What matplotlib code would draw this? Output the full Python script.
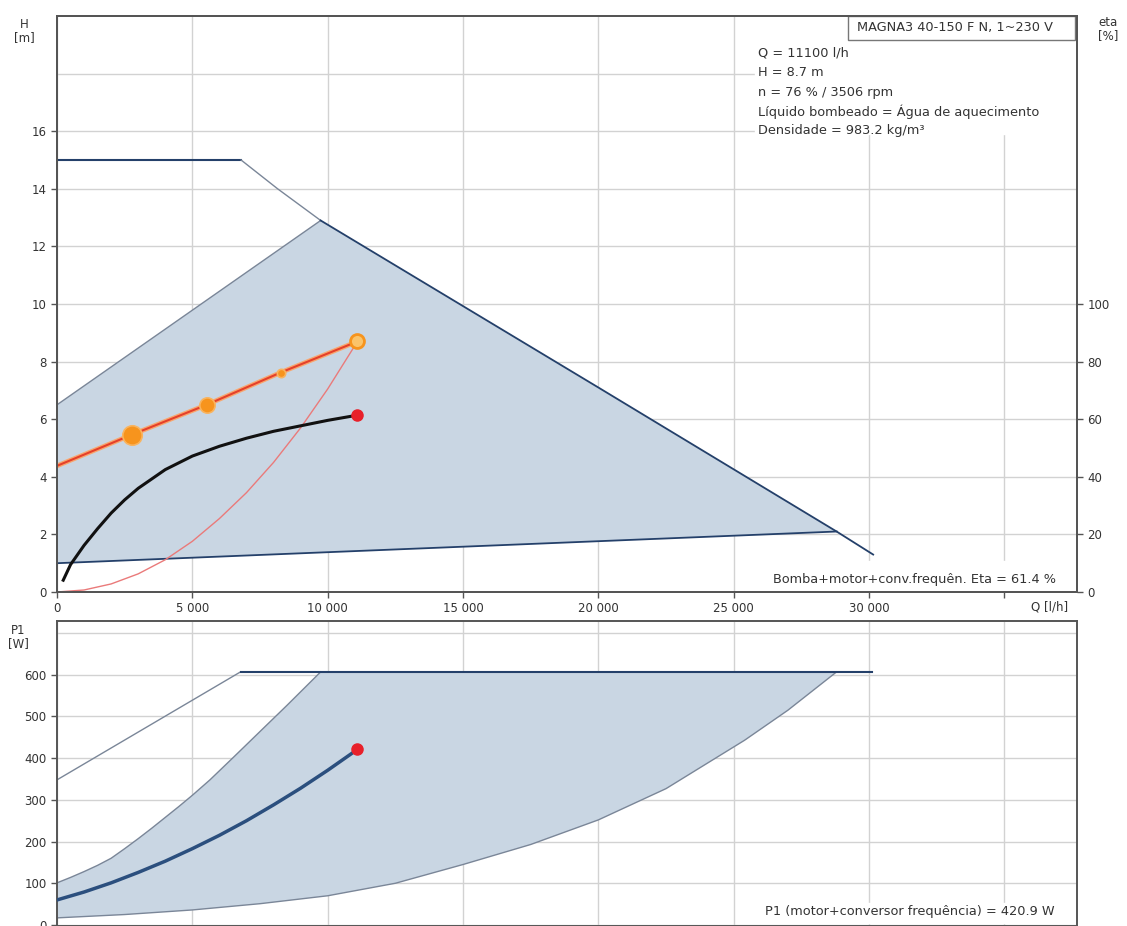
import numpy as np
import matplotlib.pyplot as plt
from matplotlib.patches import Rectangle

plt.rcParams['font.family'] = ['DejaVu Sans']

# ---- top chart: head H [m] vs flow Q [l/h]
q_max = [0, 6800, 8150, 9740, 20000, 28800, 30150]
h_max = [15, 15, 14.0, 12.9, 7.1, 2.1, 1.3]

q_area_top = [0, 9740]          # upper-left edge of shaded area
h_area_top = [6.5, 12.9]
q_area_bot = [0, 28800]         # lower edge of shaded area
h_area_bot = [1.0, 2.1]

q_set = [0, 2760, 5530, 8260, 11100]
h_set = [4.38, 5.46, 6.50, 7.62, 8.70]

q_sys = [0, 1000, 2000, 3000, 4000, 5000, 6000, 7000, 8000, 9000, 10000, 11100]
h_sys = [0, 0.07, 0.28, 0.63, 1.12, 1.76, 2.55, 3.45, 4.5, 5.7, 7.05, 8.7]

q_eta = [230, 500, 1000, 1500, 2000, 2500, 3000, 4000, 5000, 6000, 7000, 8000, 9000, 10000, 11100]
eta = [4.1, 9.5, 16.2, 22.0, 27.4, 32.0, 36.0, 42.5, 47.2, 50.6, 53.4, 55.8, 57.7, 59.6, 61.4]

# ---- bottom chart: P1 [W] vs Q
q_p1_thin = [0, 6780]
p1_thin = [348, 607]
q_p1_flat = [6780, 30100]
p1_flat = [607, 607]

q_p1_left = [0, 500, 1000, 1500, 2000, 2500, 3000, 3500, 4000, 4500, 5000, 5650, 6500, 7500, 8500, 9740]
p1_left = [101, 114, 128, 143, 160, 183, 207, 232, 258, 284, 311, 348, 401, 464, 527, 607]
q_p1_right = [0, 2500, 5000, 7500, 10000, 12500, 15000, 17500, 20000, 22500, 25400, 27000, 28800]
p1_right = [17, 25, 36, 51, 70, 100, 145, 193, 252, 327, 443, 515, 607]

q_p1 = [0, 1000, 2000, 3000, 4000, 5000, 6000, 7000, 8000, 9000, 10000, 11100]
p1 = [60, 79, 101, 126, 153, 183, 215, 250, 288, 328, 371, 421]

x_ticks = [0, 5000, 10000, 15000, 20000, 25000, 30000, 35000]
x_labels = ['0', '5 000', '10 000', '15 000', '20 000', '25 000', '30 000', '']

info_lines = ['Q = 11100 l/h', 'H = 8.7 m', 'n = 76 % / 3506 rpm',
              'Líquido bombeado = Água de aquecimento', 'Densidade = 983.2 kg/m³']

shade = '#c9d6e3'
navy = '#24406a'
thin = '#7a8698'
gridc = '#d2d2d2'
spinec = '#555555'
txtc = '#333333'
fs = 8.5
fs_info = 9.3

W, H = 1127, 926
fig = plt.figure(figsize=(W / 100, H / 100), dpi=100)


def px_axes(x0, y0, x1, y1):
    return fig.add_axes([x0 / W, 1 - y1 / H, (x1 - x0) / W, (y1 - y0) / H])


def style(ax):
    for s in ax.spines.values():
        s.set_color(spinec)
        s.set_linewidth(1.4)
    ax.tick_params(colors=txtc, labelsize=fs, length=4, width=1, color=spinec)
    ax.set_axisbelow(True)


# ================= top chart
ax = px_axes(57, 16, 1077, 592)
style(ax)
ax.set_xlim(0, 37680)
ax.set_ylim(0, 20)
ax.set_xticks(x_ticks)
ax.set_xticklabels(x_labels)
ax.set_yticks(np.arange(0, 17, 2))
ax.grid(True, color=gridc, lw=1)
ax.axhline(18, color=gridc, lw=1, zorder=0.5)

ax.fill(q_area_top + q_max[4:6] + q_area_bot[::-1],
        h_area_top + h_max[4:6] + h_area_bot[::-1], color=shade, lw=0, zorder=1)
ax.plot(q_area_top, h_area_top, color=thin, lw=1, zorder=2)
ax.plot(q_area_bot, h_area_bot, color=navy, lw=1.3, zorder=2)
ax.plot(q_max[:2], h_max[:2], color=navy, lw=1.5, zorder=2)
ax.plot(q_max[1:4], h_max[1:4], color=thin, lw=1, zorder=2)
ax.plot(q_max[3:], h_max[3:], color=navy, lw=1.3, zorder=2)

ax.plot(q_sys, h_sys, color='#ea7a7a', lw=1, zorder=3)
ax.plot(q_set, h_set, color='#f8a66e', lw=3.4, zorder=4, solid_capstyle='round')
ax.plot(q_set, h_set, color='#e5402a', lw=1.5, zorder=5)
for q, h, ms in zip(q_set[1:4], h_set[1:4], [14, 11, 6]):
    ax.plot(q, h, 'o', ms=ms, mfc='#f7941d', mec='#f9b45f', mew=1.2, zorder=6)
ax.plot(q_set[-1], h_set[-1], 'o', ms=10, mfc='#fbc46a', mec='#f7941d', mew=2, zorder=6)

# white panels behind texts
ax.add_patch(Rectangle((0.684, 0.795), 0.314, 0.165, transform=ax.transAxes,
                       color='white', zorder=1.5))
ax.add_patch(Rectangle((0.69, 0.003), 0.308, 0.05, transform=ax.transAxes,
                       color='white', zorder=1.5))
ax.add_patch(Rectangle(((848 - 57) / 1020, (592 - 40) / 576), (1075 - 848) / 1020, 24 / 576,
                       transform=ax.transAxes, fc='white', ec='#777777', lw=1, zorder=6))
ax.text((857 - 57) / 1020, (592 - 28) / 576, 'MAGNA3 40-150 F N, 1~230 V', transform=ax.transAxes,
        fontsize=fs_info, va='center', ha='left', color=txtc, zorder=7)
for i, line in enumerate(info_lines):
    ax.text(0.687, 0.935 - i * 0.0335, line, transform=ax.transAxes, fontsize=fs_info,
            va='center', ha='left', color=txtc, zorder=7)
ax.text(0.702, 0.021, 'Bomba+motor+conv.frequên. Eta = 61.4 %', transform=ax.transAxes,
        fontsize=fs_info, va='center', ha='left', color=txtc, zorder=7)

ax2 = ax.twinx()
ax2.set_ylim(0, 200)
ax2.set_yticks(np.arange(0, 101, 20))
style(ax2)
ax2.plot(q_eta, eta, color='#111111', lw=2.2, zorder=5)
ax2.plot(q_eta[-1], eta[-1], 'o', ms=8, color='#e8202a', zorder=6)

fig.text(1068 / W, 1 - 607 / H, 'Q [l/h]', fontsize=fs, ha='right', va='center', color=txtc)
fig.text(24 / W, 1 - 31 / H, 'H\n[m]', fontsize=fs, ha='center', va='center',
         color=txtc, linespacing=1.1)
fig.text(1108 / W, 1 - 29 / H, 'eta\n[%]', fontsize=fs, ha='center', va='center',
         color=txtc, linespacing=1.1)

# ================= bottom chart
bx = px_axes(57, 621, 1077, 926)
style(bx)
bx.set_xlim(0, 37680)
bx.set_ylim(-2.5, 729)
bx.set_xticks(x_ticks)
bx.tick_params(axis='x', labelbottom=False, length=0)
bx.set_yticks(np.arange(0, 601, 100))
bx.grid(True, color=gridc, lw=1)
bx.axhline(700, color=gridc, lw=1, zorder=0.5)

bx.fill(q_p1_left + q_p1_right[::-1], p1_left + p1_right[::-1], color=shade, lw=0, zorder=1)
bx.plot(q_p1_left, p1_left, color=thin, lw=1, zorder=2)
bx.plot(q_p1_right, p1_right, color=thin, lw=1, zorder=2)
bx.plot(q_p1_thin, p1_thin, color=thin, lw=1, zorder=2)
bx.plot(q_p1_flat, p1_flat, color=navy, lw=1.5, zorder=2)
bx.plot(q_p1, p1, color='#2b4f7e', lw=2.5, zorder=4)
bx.plot(q_p1[-1], p1[-1], 'o', ms=8, color='#e8202a', zorder=5)

bx.add_patch(Rectangle((0.69, 0.01), 0.308, 0.065, transform=bx.transAxes,
                       color='white', zorder=1.5))
bx.text(0.694, 0.046, 'P1 (motor+conversor frequência) = 420.9 W', transform=bx.transAxes,
        fontsize=fs_info, va='center', ha='left', color=txtc, zorder=7)
fig.text(18 / W, 1 - 637 / H, 'P1\n[W]', fontsize=fs, ha='center', va='center',
         color=txtc, linespacing=1.1)

fig.savefig('out.png', dpi=100)
